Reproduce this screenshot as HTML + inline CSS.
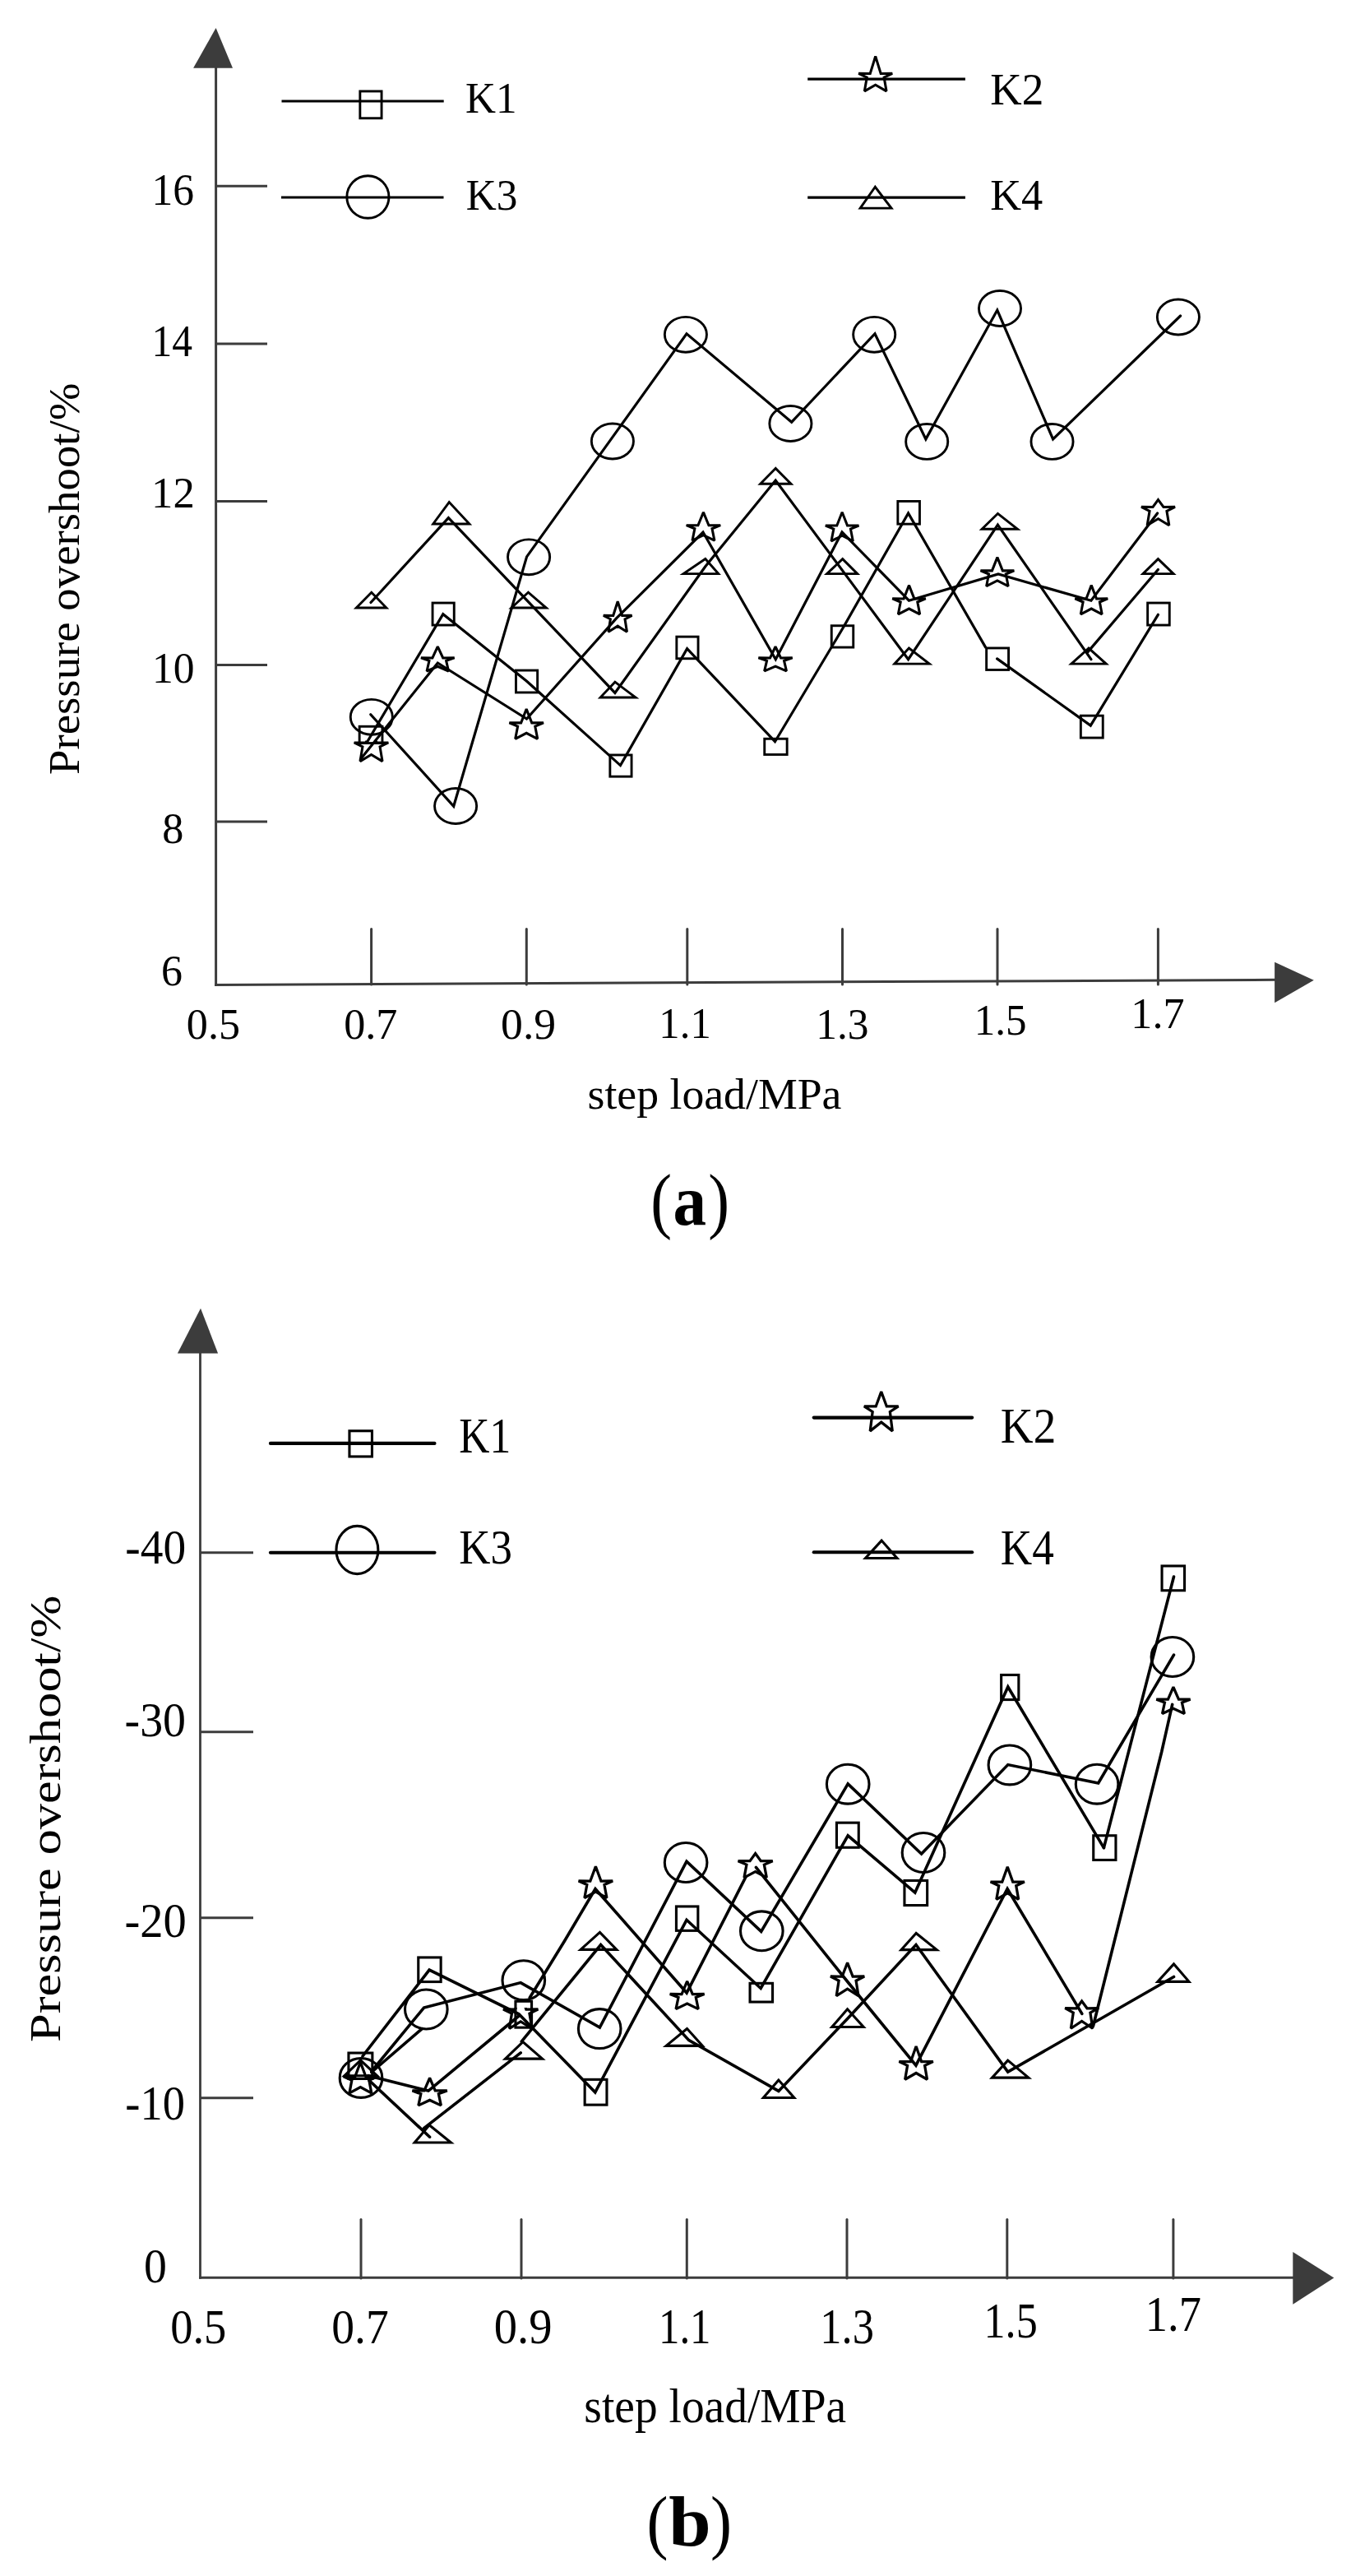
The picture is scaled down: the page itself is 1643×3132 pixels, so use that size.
<!DOCTYPE html>
<html lang="en">
<head>
<meta charset="utf-8">
<title>Pressure overshoot vs step load</title>
<style>
html,body{margin:0;padding:0;background:#fff;}
svg{display:block;}
text{font-family:"Liberation Serif",serif;fill:#000;}
</style>
</head>
<body>
<svg width="1643" height="3132" viewBox="0 0 1643 3132">
<rect width="1643" height="3132" fill="#fff"/>
<g id="chart-a">
<line x1="262.6" y1="80" x2="262.6" y2="1199" stroke="#3c3c3c" stroke-width="3" stroke-linecap="butt"/>
<polygon points="262.6,34 235.1,82.8 283,82.8" fill="#3c3c3c"/>
<line x1="261.1" y1="1197.5" x2="1552" y2="1191.3" stroke="#3c3c3c" stroke-width="3" stroke-linecap="butt"/>
<polygon points="1597.8,1191.8 1550.1,1169.7 1550.1,1219.2" fill="#3c3c3c"/>
<line x1="262" y1="226.2" x2="325" y2="226.2" stroke="#3c3c3c" stroke-width="3" stroke-linecap="butt"/>
<line x1="262" y1="418" x2="325" y2="418" stroke="#3c3c3c" stroke-width="3" stroke-linecap="butt"/>
<line x1="262" y1="609.5" x2="325" y2="609.5" stroke="#3c3c3c" stroke-width="3" stroke-linecap="butt"/>
<line x1="262" y1="808.4" x2="325" y2="808.4" stroke="#3c3c3c" stroke-width="3" stroke-linecap="butt"/>
<line x1="262" y1="998.9" x2="325" y2="998.9" stroke="#3c3c3c" stroke-width="3" stroke-linecap="butt"/>
<line x1="451.6" y1="1129.6" x2="451.6" y2="1197.1" stroke="#3c3c3c" stroke-width="3" stroke-linecap="round"/>
<line x1="640.3" y1="1129.6" x2="640.3" y2="1197.1" stroke="#3c3c3c" stroke-width="3" stroke-linecap="round"/>
<line x1="835.8" y1="1129.6" x2="835.8" y2="1197.1" stroke="#3c3c3c" stroke-width="3" stroke-linecap="round"/>
<line x1="1024.5" y1="1129.6" x2="1024.5" y2="1197.1" stroke="#3c3c3c" stroke-width="3" stroke-linecap="round"/>
<line x1="1213" y1="1129.6" x2="1213" y2="1197.1" stroke="#3c3c3c" stroke-width="3" stroke-linecap="round"/>
<line x1="1408.4" y1="1129.6" x2="1408.4" y2="1197.1" stroke="#3c3c3c" stroke-width="3" stroke-linecap="round"/>
<line x1="342.5" y1="123" x2="539.7" y2="123" stroke="#000" stroke-width="3.2" stroke-linecap="butt"/>
<rect x="437.85" y="110.95" width="26.2" height="32.8" fill="none" stroke="#000" stroke-width="2.9"/>
<line x1="342" y1="240" x2="539.5" y2="240" stroke="#000" stroke-width="3.2" stroke-linecap="butt"/>
<ellipse cx="447.4" cy="239.5" rx="25.55" ry="25.7" fill="none" stroke="#000" stroke-width="2.9"/>
<line x1="982.2" y1="96.2" x2="1173.9" y2="96.2" stroke="#000" stroke-width="3.2" stroke-linecap="butt"/>
<polygon points="1064.7,68.52 1071.17,89.45 1085.2,89.36 1075.13,94.1 1078.03,110.85 1064.7,103.15 1051.37,110.85 1054.27,94.1 1044.2,89.36 1058.23,89.45" fill="none" stroke="#000" stroke-width="3.05" stroke-linejoin="miter" stroke-miterlimit="2.2"/>
<line x1="982.2" y1="240.2" x2="1173.9" y2="240.2" stroke="#000" stroke-width="3.2" stroke-linecap="butt"/>
<polygon points="1064.3,227.26 1046.16,253.15 1084.04,253.15" fill="none" stroke="#000" stroke-width="2.9" stroke-linejoin="miter" stroke-miterlimit="10"/>
<text transform="translate(567.5 137) scale(0.5119 0.5333)" x="-2.75" y="0" font-size="100">K1</text>
<text transform="translate(568.2 254.97) scale(0.5126 0.5338)" x="-2.75" y="0" font-size="100">K3</text>
<text transform="translate(1205.7 127) scale(0.5325 0.5479)" x="-2.75" y="0" font-size="100">K2</text>
<text transform="translate(1205.7 255.4) scale(0.5237 0.5354)" x="-2.75" y="0" font-size="100">K4</text>
<text transform="translate(188.9 248.66) scale(0.5156 0.5398)" x="-8.75" y="0" font-size="100">16</text>
<text transform="translate(188.9 432.8) scale(0.4947 0.5394)" x="-8.75" y="0" font-size="100">14</text>
<text transform="translate(188.7 616.5) scale(0.5271 0.5298)" x="-8.75" y="0" font-size="100">12</text>
<text transform="translate(189.5 830.47) scale(0.5154 0.5259)" x="-8.75" y="0" font-size="100">10</text>
<text transform="translate(199.2 1024.56) scale(0.5224 0.5363)" x="-3.75" y="0" font-size="100">8</text>
<text transform="translate(198.1 1198.17) scale(0.5193 0.5338)" x="-4.25" y="0" font-size="100">6</text>
<text transform="translate(228.8 1262.81) scale(0.5211 0.5279)" x="-3.75" y="0" font-size="100">0.5</text>
<text transform="translate(420.2 1262.81) scale(0.5215 0.5279)" x="-3.75" y="0" font-size="100">0.7</text>
<text transform="translate(611.1 1263.2) scale(0.5365 0.5338)" x="-3.75" y="0" font-size="100">0.9</text>
<text transform="translate(805.8 1262.02) scale(0.5070 0.5200)" x="-8.75" y="0" font-size="100">1.1</text>
<text transform="translate(996.7 1263.22) scale(0.5149 0.5196)" x="-8.75" y="0" font-size="100">1.3</text>
<text transform="translate(1189.3 1257.61) scale(0.5105 0.5259)" x="-8.75" y="0" font-size="100">1.5</text>
<text transform="translate(1379.9 1250.19) scale(0.5216 0.5378)" x="-8.75" y="0" font-size="100">1.7</text>
<text transform="translate(716.6 1348) scale(0.5375 0.5324)" x="-4" y="0" font-size="100">step load/MPa</text>
<text transform="translate(96 940.6) rotate(-90) scale(0.5483 0.5381)" x="-2.75" y="0" font-size="100">Pressure overshoot/%</text>
<polyline points="446,903 538.8,746.7 640.6,828.3 754.5,930.6 835.6,788.7 942.5,901.7 1024.7,764.3 1104.6,624 1198.5,786.9" fill="none" stroke="#000" stroke-width="3.2" stroke-linejoin="miter" stroke-linecap="round"/>
<polyline points="1212.6,800.9 1326.3,882.1 1408.4,747.3" fill="none" stroke="#000" stroke-width="3.2" stroke-linejoin="miter" stroke-linecap="round"/>
<polyline points="438.5,923 532.3,806 640.5,874 749.7,751.7 855,647 943.3,801.7 1024,647 1105.4,730.2 1214,698 1326.9,730.2 1407.6,624" fill="none" stroke="#000" stroke-width="3.2" stroke-linejoin="miter" stroke-linecap="round"/>
<polyline points="450.8,868.8 551.7,980.2 640.6,676.9 745,531.4 835,405.9 962.7,513.2 1064,405.7 1125.9,533.9 1212.8,377 1280.6,533.9 1435.6,384" fill="none" stroke="#000" stroke-width="3.2" stroke-linejoin="miter" stroke-linecap="round"/>
<polyline points="451,732.5 545.4,629.6 640.3,729.3 747.9,842.4 857.8,688.8 943.2,584 1024.7,693.9 1104.6,801.7 1213.4,638.1 1326.9,801.7" fill="none" stroke="#000" stroke-width="3.2" stroke-linejoin="miter" stroke-linecap="round"/>
<polyline points="1323.2,792.4 1408.4,692.5" fill="none" stroke="#000" stroke-width="3.2" stroke-linejoin="miter" stroke-linecap="round"/>
<rect x="437.15" y="883.25" width="27.8" height="20.3" fill="none" stroke="#000" stroke-width="2.9"/>
<rect x="526.05" y="733.05" width="26.2" height="27" fill="none" stroke="#000" stroke-width="2.9"/>
<rect x="627.45" y="815.05" width="26.2" height="26.9" fill="none" stroke="#000" stroke-width="2.9"/>
<rect x="741.85" y="917.95" width="26.2" height="26.2" fill="none" stroke="#000" stroke-width="2.9"/>
<rect x="822.85" y="774.15" width="26.2" height="26.6" fill="none" stroke="#000" stroke-width="2.9"/>
<rect x="929.75" y="898.25" width="27.4" height="19.2" fill="none" stroke="#000" stroke-width="2.9"/>
<rect x="1011.25" y="760.75" width="26.5" height="26.3" fill="none" stroke="#000" stroke-width="2.9"/>
<rect x="1091.85" y="609.45" width="26.6" height="27.7" fill="none" stroke="#000" stroke-width="2.9"/>
<rect x="1199.65" y="787.95" width="26.9" height="26.5" fill="none" stroke="#000" stroke-width="2.9"/>
<rect x="1314.35" y="870.15" width="26.9" height="26.9" fill="none" stroke="#000" stroke-width="2.9"/>
<rect x="1395.65" y="733.05" width="26.6" height="27" fill="none" stroke="#000" stroke-width="2.9"/>
<ellipse cx="451.8" cy="871.8" rx="25.55" ry="21.45" fill="none" stroke="#000" stroke-width="2.9"/>
<ellipse cx="554.1" cy="980" rx="25.55" ry="21.45" fill="none" stroke="#000" stroke-width="2.9"/>
<ellipse cx="643.1" cy="677.3" rx="25.55" ry="21.45" fill="none" stroke="#000" stroke-width="2.9"/>
<ellipse cx="744.9" cy="536.5" rx="25.55" ry="21.45" fill="none" stroke="#000" stroke-width="2.9"/>
<ellipse cx="833.9" cy="406.8" rx="25.55" ry="21.45" fill="none" stroke="#000" stroke-width="2.9"/>
<ellipse cx="961.4" cy="515" rx="25.55" ry="21.45" fill="none" stroke="#000" stroke-width="2.9"/>
<ellipse cx="1063.2" cy="406.8" rx="25.55" ry="21.45" fill="none" stroke="#000" stroke-width="2.9"/>
<ellipse cx="1127.2" cy="536.9" rx="25.55" ry="21.45" fill="none" stroke="#000" stroke-width="2.9"/>
<ellipse cx="1216" cy="375" rx="25.55" ry="21.45" fill="none" stroke="#000" stroke-width="2.9"/>
<ellipse cx="1279.5" cy="536.9" rx="25.55" ry="21.45" fill="none" stroke="#000" stroke-width="2.9"/>
<ellipse cx="1432.9" cy="385.5" rx="25.55" ry="21.45" fill="none" stroke="#000" stroke-width="2.9"/>
<clipPath id="cpa"><rect x="420" y="900.5" width="70" height="40"/></clipPath>
<polygon points="451.5,881.05 458.06,903.08 472.28,902.99 462.07,907.98 465.01,925.61 451.5,917.51 437.99,925.61 440.93,907.98 430.72,902.99 444.94,903.08" fill="none" stroke="#000" stroke-width="3.05" stroke-linejoin="miter" stroke-miterlimit="2.2" clip-path="url(#cpa)"/>
<polygon points="532.3,786.05 538.71,799.93 552.62,799.87 542.63,803.43 545.51,816.01 532.3,810.23 519.09,816.01 521.97,803.43 511.98,799.87 525.89,799.93" fill="none" stroke="#000" stroke-width="3.05" stroke-linejoin="miter" stroke-miterlimit="2.2"/>
<polygon points="640.2,862.12 646.76,878.89 660.98,878.81 650.77,883.11 653.71,898.31 640.2,891.32 626.69,898.31 629.63,883.11 619.42,878.81 633.64,878.89" fill="none" stroke="#000" stroke-width="3.05" stroke-linejoin="miter" stroke-miterlimit="2.2"/>
<polygon points="751.2,731.23 756.67,748.41 768.54,748.33 760.02,752.73 762.47,768.29 751.2,761.14 739.93,768.29 742.38,752.73 733.86,748.33 745.73,748.41" fill="none" stroke="#000" stroke-width="3.05" stroke-linejoin="miter" stroke-miterlimit="2.2"/>
<polygon points="855.45,622.8 861.99,638.76 876.19,638.68 866,642.78 868.93,657.24 855.45,650.59 841.97,657.24 844.9,642.78 834.71,638.68 848.91,638.76" fill="none" stroke="#000" stroke-width="3.05" stroke-linejoin="miter" stroke-miterlimit="2.2"/>
<polygon points="943.05,786.24 949.56,799.95 963.69,799.88 953.55,803.4 956.47,815.82 943.05,810.11 929.63,815.82 932.55,803.4 922.41,799.88 936.54,799.95" fill="none" stroke="#000" stroke-width="3.05" stroke-linejoin="miter" stroke-miterlimit="2.2"/>
<polygon points="1024.15,622.81 1030.54,639.08 1044.42,639.01 1034.46,643.18 1037.33,657.93 1024.15,651.15 1010.97,657.93 1013.84,643.18 1003.88,639.01 1017.76,639.08" fill="none" stroke="#000" stroke-width="3.05" stroke-linejoin="miter" stroke-miterlimit="2.2"/>
<polygon points="1105.5,711.61 1111.88,727.93 1125.72,727.85 1115.79,732.04 1118.65,746.82 1105.5,740.03 1092.35,746.82 1095.21,732.04 1085.28,727.85 1099.12,727.93" fill="none" stroke="#000" stroke-width="3.05" stroke-linejoin="miter" stroke-miterlimit="2.2"/>
<polygon points="1212.9,677.61 1219.34,693.88 1233.31,693.81 1223.28,697.98 1226.17,712.73 1212.9,705.95 1199.63,712.73 1202.52,697.98 1192.49,693.81 1206.46,693.88" fill="none" stroke="#000" stroke-width="3.05" stroke-linejoin="miter" stroke-miterlimit="2.2"/>
<polygon points="1327.25,711.61 1333.53,727.93 1347.15,727.85 1337.37,732.04 1340.19,746.82 1327.25,740.03 1314.31,746.82 1317.13,732.04 1307.35,727.85 1320.97,727.93" fill="none" stroke="#000" stroke-width="3.05" stroke-linejoin="miter" stroke-miterlimit="2.2"/>
<polygon points="1408.5,607.62 1414.97,616.45 1429,616.36 1418.93,621.29 1421.83,638.72 1408.5,630.71 1395.17,638.72 1398.07,621.29 1388,616.36 1402.03,616.45" fill="none" stroke="#000" stroke-width="3.05" stroke-linejoin="miter" stroke-miterlimit="2.2"/>
<polygon points="451.8,720.34 433.31,739.05 469.89,739.05" fill="none" stroke="#000" stroke-width="2.9" stroke-linejoin="miter" stroke-miterlimit="10"/>
<polygon points="546.2,610.55 526.74,636.95 570.86,636.95" fill="none" stroke="#000" stroke-width="2.9" stroke-linejoin="miter" stroke-miterlimit="10"/>
<polygon points="642.4,720.26 621.99,739.05 664.31,739.05" fill="none" stroke="#000" stroke-width="2.9" stroke-linejoin="miter" stroke-miterlimit="10"/>
<polygon points="747.9,829.15 730.11,848.05 773.09,848.05" fill="none" stroke="#000" stroke-width="2.9" stroke-linejoin="miter" stroke-miterlimit="10"/>
<polygon points="857.8,679.54 831.18,697.65 873.72,697.65" fill="none" stroke="#000" stroke-width="2.9" stroke-linejoin="miter" stroke-miterlimit="10"/>
<polygon points="943.2,569.43 924.73,588.25 961.97,588.25" fill="none" stroke="#000" stroke-width="2.9" stroke-linejoin="miter" stroke-miterlimit="10"/>
<polygon points="1024.7,679.61 1005.6,697.65 1042.7,697.65" fill="none" stroke="#000" stroke-width="2.9" stroke-linejoin="miter" stroke-miterlimit="10"/>
<polygon points="1105.4,788.06 1087.86,807.15 1130.24,807.15" fill="none" stroke="#000" stroke-width="2.9" stroke-linejoin="miter" stroke-miterlimit="10"/>
<polygon points="1213.4,624.45 1194.14,643.25 1237.46,643.25" fill="none" stroke="#000" stroke-width="2.9" stroke-linejoin="miter" stroke-miterlimit="10"/>
<polygon points="1324,788.06 1302.86,807.15 1345.24,807.15" fill="none" stroke="#000" stroke-width="2.9" stroke-linejoin="miter" stroke-miterlimit="10"/>
<polygon points="1408.4,679.61 1390,697.65 1427.1,697.65" fill="none" stroke="#000" stroke-width="2.9" stroke-linejoin="miter" stroke-miterlimit="10"/>
</g>
<text transform="translate(794.5 1488.6) scale(0.7748 0.8830)" y="0" font-size="100"><tspan x="-4.35">(</tspan><tspan x="30.93" font-weight="bold" textLength="52.34" lengthAdjust="spacingAndGlyphs">a</tspan><tspan x="86.29">)</tspan></text>
<g id="chart-b">
<line x1="243.5" y1="1643" x2="243.5" y2="2770.7" stroke="#3c3c3c" stroke-width="2.8" stroke-linecap="butt"/>
<polygon points="244,1590.7 215.9,1645.5 265.1,1645.5" fill="#3c3c3c"/>
<line x1="242.1" y1="2769.2" x2="1574" y2="2769.2" stroke="#3c3c3c" stroke-width="3" stroke-linecap="butt"/>
<polygon points="1622.3,2769.5 1572.3,2738.1 1572.3,2801.7" fill="#3c3c3c"/>
<line x1="243" y1="1887.7" x2="308" y2="1887.7" stroke="#3c3c3c" stroke-width="3" stroke-linecap="butt"/>
<line x1="243" y1="2105.8" x2="308" y2="2105.8" stroke="#3c3c3c" stroke-width="3" stroke-linecap="butt"/>
<line x1="243" y1="2331.8" x2="308" y2="2331.8" stroke="#3c3c3c" stroke-width="3" stroke-linecap="butt"/>
<line x1="243" y1="2550.7" x2="308" y2="2550.7" stroke="#3c3c3c" stroke-width="3" stroke-linecap="butt"/>
<line x1="439" y1="2698.5" x2="439" y2="2770" stroke="#3c3c3c" stroke-width="3" stroke-linecap="round"/>
<line x1="634" y1="2698.5" x2="634" y2="2770" stroke="#3c3c3c" stroke-width="3" stroke-linecap="round"/>
<line x1="835.3" y1="2698.5" x2="835.3" y2="2770" stroke="#3c3c3c" stroke-width="3" stroke-linecap="round"/>
<line x1="1030" y1="2698.5" x2="1030" y2="2770" stroke="#3c3c3c" stroke-width="3" stroke-linecap="round"/>
<line x1="1224.8" y1="2698.5" x2="1224.8" y2="2770" stroke="#3c3c3c" stroke-width="3" stroke-linecap="round"/>
<line x1="1426.9" y1="2698.5" x2="1426.9" y2="2770" stroke="#3c3c3c" stroke-width="3" stroke-linecap="round"/>
<line x1="328.9" y1="1754.9" x2="528.5" y2="1754.9" stroke="#000" stroke-width="4.1" stroke-linecap="round"/>
<rect x="424.95" y="1739.75" width="27.5" height="31.2" fill="none" stroke="#000" stroke-width="3.1"/>
<line x1="328.9" y1="1887.7" x2="528.5" y2="1887.7" stroke="#000" stroke-width="4.1" stroke-linecap="round"/>
<ellipse cx="434.4" cy="1884.5" rx="25.45" ry="29.1" fill="none" stroke="#000" stroke-width="3.1"/>
<line x1="989.7" y1="1723.6" x2="1182.2" y2="1723.6" stroke="#000" stroke-width="4.1" stroke-linecap="round"/>
<polygon points="1071.75,1692.14 1078.32,1709.99 1092.58,1709.87 1082.34,1716.49 1085.29,1739.89 1071.75,1729.13 1058.21,1739.89 1061.16,1716.49 1050.92,1709.87 1065.18,1709.99" fill="none" stroke="#000" stroke-width="3.25" stroke-linejoin="miter" stroke-miterlimit="2.2"/>
<line x1="989.7" y1="1887.2" x2="1182.2" y2="1887.2" stroke="#000" stroke-width="4.1" stroke-linecap="round"/>
<polygon points="1072.1,1873.08 1052.53,1894.45 1090.97,1894.45" fill="none" stroke="#000" stroke-width="3.1" stroke-linejoin="miter" stroke-miterlimit="10"/>
<text transform="translate(559.7 1765.8) scale(0.5154 0.6061)" x="-2.75" y="0" font-size="100">K1</text>
<text transform="translate(559.7 1901.11) scale(0.5290 0.5933)" x="-2.75" y="0" font-size="100">K3</text>
<text transform="translate(1218.3 1754.3) scale(0.5518 0.6023)" x="-2.75" y="0" font-size="100">K2</text>
<text transform="translate(1218.3 1902.4) scale(0.5331 0.6084)" x="-2.75" y="0" font-size="100">K4</text>
<text transform="translate(154.4 1901.11) scale(0.5535 0.5911)" x="-3.75" y="0" font-size="100">-40</text>
<text transform="translate(153.6 2111.1) scale(0.5590 0.5970)" x="-3.75" y="0" font-size="100">-30</text>
<text transform="translate(153.6 2354.81) scale(0.5654 0.5911)" x="-3.75" y="0" font-size="100">-20</text>
<text transform="translate(154.4 2577.11) scale(0.5447 0.5926)" x="-3.75" y="0" font-size="100">-10</text>
<text transform="translate(177 2775.21) scale(0.5576 0.5911)" x="-3.75" y="0" font-size="100">0</text>
<text transform="translate(209.2 2849) scale(0.5458 0.6000)" x="-3.75" y="0" font-size="100">0.5</text>
<text transform="translate(405.3 2849) scale(0.5561 0.6000)" x="-3.75" y="0" font-size="100">0.7</text>
<text transform="translate(602.9 2848.99) scale(0.5655 0.6074)" x="-3.75" y="0" font-size="100">0.9</text>
<text transform="translate(805.4 2848.79) scale(0.5088 0.6089)" x="-8.75" y="0" font-size="100">1.1</text>
<text transform="translate(1001.9 2848.79) scale(0.5247 0.6066)" x="-8.75" y="0" font-size="100">1.3</text>
<text transform="translate(1201.1 2842.28) scale(0.5212 0.6148)" x="-8.75" y="0" font-size="100">1.5</text>
<text transform="translate(1397.6 2834.08) scale(0.5445 0.6133)" x="-8.75" y="0" font-size="100">1.7</text>
<text transform="translate(712.5 2945.2) scale(0.5547 0.5928)" x="-4" y="0" font-size="100">step load/MPa</text>
<text transform="translate(72.5 2481.3) rotate(-90) scale(0.6253 0.5367)" x="-2.75" y="0" font-size="100">Pressure overshoot/%</text>
<polyline points="441,2500 522.1,2395.1 631,2448.8 723.8,2543.9 835,2334.3 925.2,2417.5 1031.2,2231.8 1112.8,2301 1225.8,2051 1342.4,2246.6" fill="none" stroke="#000" stroke-width="3.6" stroke-linejoin="miter" stroke-linecap="round"/>
<polyline points="1342.4,2246.6 1427.5,1917" fill="none" stroke="#000" stroke-width="3.6" stroke-linejoin="miter" stroke-linecap="round"/>
<polyline points="448,2523.7 521,2542.1 631,2451" fill="none" stroke="#000" stroke-width="3.6" stroke-linejoin="miter" stroke-linecap="round"/>
<polyline points="644.3,2428.8 686.5,2360 724,2296.5 835.1,2423 907,2282" fill="none" stroke="#000" stroke-width="3.6" stroke-linejoin="miter" stroke-linecap="round"/>
<polyline points="919.4,2270.4 1032,2411 1113.9,2511.2 1225.1,2296.5 1315.8,2448.4" fill="none" stroke="#000" stroke-width="3.6" stroke-linejoin="miter" stroke-linecap="round"/>
<polyline points="1329.5,2463.2 1362.8,2330 1412.7,2130 1425.7,2072.4" fill="none" stroke="#000" stroke-width="3.6" stroke-linejoin="miter" stroke-linecap="round"/>
<polyline points="451.8,2518.5 515.5,2441.1 633.2,2410.6 729.4,2465.1 835,2263.2 925.7,2348.4 1031.2,2168.9 1120.6,2254 1225.8,2145.6 1335.7,2168 1427.5,2012.1" fill="none" stroke="#000" stroke-width="3.6" stroke-linejoin="miter" stroke-linecap="round"/>
<polyline points="451.8,2519.5 513.3,2466.6" fill="none" stroke="#000" stroke-width="3.6" stroke-linejoin="miter" stroke-linecap="round"/>
<polyline points="449,2529.5 522.6,2598.2" fill="none" stroke="#000" stroke-width="3.6" stroke-linejoin="miter" stroke-linecap="round"/>
<polyline points="515.5,2587.6 633.2,2495.9" fill="none" stroke="#000" stroke-width="3.6" stroke-linejoin="miter" stroke-linecap="round"/>
<polyline points="634.3,2482.1 730.6,2364.5 837.8,2480.6 946.9,2542.4 1030.6,2454.4 1114,2364.5 1225.7,2519.1 1427.5,2403.5" fill="none" stroke="#000" stroke-width="3.6" stroke-linejoin="miter" stroke-linecap="round"/>
<rect x="423.95" y="2496.05" width="28.9" height="31.4" fill="none" stroke="#000" stroke-width="3.1"/>
<rect x="508.75" y="2379.95" width="27.4" height="29.6" fill="none" stroke="#000" stroke-width="3.1"/>
<rect x="626.95" y="2433.25" width="19.6" height="31.9" fill="none" stroke="#000" stroke-width="3.1"/>
<rect x="711.15" y="2528.35" width="26.8" height="30.8" fill="none" stroke="#000" stroke-width="3.1"/>
<rect x="822.45" y="2317.95" width="26.4" height="29.4" fill="none" stroke="#000" stroke-width="3.1"/>
<rect x="912.05" y="2411.35" width="27.5" height="22.7" fill="none" stroke="#000" stroke-width="3.1"/>
<rect x="1017.45" y="2216.15" width="26.8" height="30.1" fill="none" stroke="#000" stroke-width="3.1"/>
<rect x="1099.95" y="2286.45" width="27.7" height="30.1" fill="none" stroke="#000" stroke-width="3.1"/>
<rect x="1217.65" y="2036.45" width="21.2" height="30.1" fill="none" stroke="#000" stroke-width="3.1"/>
<rect x="1329.75" y="2231.75" width="27.2" height="29.7" fill="none" stroke="#000" stroke-width="3.1"/>
<rect x="1413.05" y="1903.95" width="27.5" height="29.8" fill="none" stroke="#000" stroke-width="3.1"/>
<ellipse cx="439" cy="2526.4" rx="25.8" ry="23.95" fill="none" stroke="#000" stroke-width="3.1"/>
<ellipse cx="518.3" cy="2443" rx="25.8" ry="23.95" fill="none" stroke="#000" stroke-width="3.1"/>
<ellipse cx="636.8" cy="2407.7" rx="25.8" ry="23.95" fill="none" stroke="#000" stroke-width="3.1"/>
<ellipse cx="729.2" cy="2466.6" rx="25.8" ry="23.95" fill="none" stroke="#000" stroke-width="3.1"/>
<ellipse cx="834.1" cy="2264.5" rx="25.8" ry="23.95" fill="none" stroke="#000" stroke-width="3.1"/>
<ellipse cx="926.3" cy="2347.8" rx="25.8" ry="23.95" fill="none" stroke="#000" stroke-width="3.1"/>
<ellipse cx="1031.2" cy="2169.2" rx="25.8" ry="23.95" fill="none" stroke="#000" stroke-width="3.1"/>
<ellipse cx="1123" cy="2252.5" rx="25.8" ry="23.95" fill="none" stroke="#000" stroke-width="3.1"/>
<ellipse cx="1227.9" cy="2145.9" rx="25.8" ry="23.95" fill="none" stroke="#000" stroke-width="3.1"/>
<ellipse cx="1334.1" cy="2169.2" rx="25.8" ry="23.95" fill="none" stroke="#000" stroke-width="3.1"/>
<ellipse cx="1425.9" cy="2014.5" rx="25.8" ry="23.95" fill="none" stroke="#000" stroke-width="3.1"/>
<clipPath id="cpb"><rect x="600" y="2441" width="70" height="40"/></clipPath>
<polygon points="633.2,2423 639.87,2443.06 654.36,2442.97 643.96,2448.12 646.96,2466.29 633.2,2457.94 619.44,2466.29 622.44,2448.12 612.04,2442.97 626.53,2443.06" fill="none" stroke="#000" stroke-width="3.25" stroke-linejoin="miter" stroke-miterlimit="2.2" clip-path="url(#cpb)"/>
<polygon points="438.35,2507.43 444.86,2524.79 458.99,2524.71 448.85,2529.16 451.77,2544.89 438.35,2537.66 424.93,2544.89 427.85,2529.16 417.71,2524.71 431.84,2524.79" fill="none" stroke="#000" stroke-width="3.25" stroke-linejoin="miter" stroke-miterlimit="2.2"/>
<polygon points="522.6,2526.49 529.27,2541.95 543.76,2541.88 533.36,2545.84 536.36,2559.85 522.6,2553.41 508.84,2559.85 511.84,2545.84 501.44,2541.88 515.93,2541.95" fill="none" stroke="#000" stroke-width="3.25" stroke-linejoin="miter" stroke-miterlimit="2.2"/>
<polygon points="724.4,2269.44 730.96,2287.07 745.18,2286.99 734.97,2291.51 737.91,2307.48 724.4,2300.14 710.89,2307.48 713.83,2291.51 703.62,2286.99 717.84,2287.07" fill="none" stroke="#000" stroke-width="3.25" stroke-linejoin="miter" stroke-miterlimit="2.2"/>
<polygon points="835.65,2408.89 842.25,2424.54 856.57,2424.46 846.29,2428.47 849.25,2442.65 835.65,2436.13 822.05,2442.65 825.01,2428.47 814.73,2424.46 829.05,2424.54" fill="none" stroke="#000" stroke-width="3.25" stroke-linejoin="miter" stroke-miterlimit="2.2"/>
<polygon points="918.65,2253.53 925.28,2262.74 939.67,2262.66 929.34,2267.12 932.32,2282.89 918.65,2275.64 904.98,2282.89 907.96,2267.12 897.63,2262.66 912.02,2262.74" fill="none" stroke="#000" stroke-width="3.25" stroke-linejoin="miter" stroke-miterlimit="2.2"/>
<polygon points="1030.6,2386.41 1037.1,2403.07 1051.2,2402.97 1041.08,2408.2 1043.99,2426.68 1030.6,2418.19 1017.21,2426.68 1020.12,2408.2 1010,2402.97 1024.1,2403.07" fill="none" stroke="#000" stroke-width="3.25" stroke-linejoin="miter" stroke-miterlimit="2.2"/>
<polygon points="1114.1,2487.97 1120.63,2506.63 1134.79,2506.54 1124.62,2511.33 1127.55,2528.24 1114.1,2520.47 1100.65,2528.24 1103.58,2511.33 1093.41,2506.54 1107.57,2506.63" fill="none" stroke="#000" stroke-width="3.25" stroke-linejoin="miter" stroke-miterlimit="2.2"/>
<polygon points="1225.25,2269.86 1231.76,2288.16 1245.89,2288.08 1235.75,2292.77 1238.67,2309.35 1225.25,2301.73 1211.83,2309.35 1214.75,2292.77 1204.61,2288.08 1218.74,2288.16" fill="none" stroke="#000" stroke-width="3.25" stroke-linejoin="miter" stroke-miterlimit="2.2"/>
<polygon points="1426.95,2051.27 1433.46,2066.24 1447.59,2066.17 1437.45,2070.01 1440.37,2083.57 1426.95,2077.34 1413.53,2083.57 1416.45,2070.01 1406.31,2066.17 1420.44,2066.24" fill="none" stroke="#000" stroke-width="3.25" stroke-linejoin="miter" stroke-miterlimit="2.2"/>
<polygon points="1315.6,2433.02 1322.01,2441.79 1335.92,2441.69 1325.93,2447.11 1328.81,2466.25 1315.6,2457.45 1302.39,2466.25 1305.27,2447.11 1295.28,2441.69 1309.19,2441.79" fill="none" stroke="#000" stroke-width="3.25" stroke-linejoin="miter" stroke-miterlimit="2.2"/>
<polygon points="438.5,2504.78 418.92,2523.75 458.58,2523.75" fill="none" stroke="#000" stroke-width="3.1" stroke-linejoin="miter" stroke-miterlimit="10"/>
<polygon points="522.1,2583.78 504.21,2605.05 548.39,2605.05" fill="none" stroke="#000" stroke-width="3.1" stroke-linejoin="miter" stroke-miterlimit="10"/>
<polygon points="635.9,2482.55 614.52,2503.15 659.58,2503.15" fill="none" stroke="#000" stroke-width="3.1" stroke-linejoin="miter" stroke-miterlimit="10"/>
<polygon points="729.5,2349.38 706.12,2370.35 749.88,2370.35" fill="none" stroke="#000" stroke-width="3.1" stroke-linejoin="miter" stroke-miterlimit="10"/>
<polygon points="835.6,2466.57 810.16,2487.35 854.34,2487.35" fill="none" stroke="#000" stroke-width="3.1" stroke-linejoin="miter" stroke-miterlimit="10"/>
<polygon points="946.9,2529 928.38,2550.45 965.82,2550.45" fill="none" stroke="#000" stroke-width="3.1" stroke-linejoin="miter" stroke-miterlimit="10"/>
<polygon points="1030.6,2442.79 1011.7,2464.55 1050.2,2464.55" fill="none" stroke="#000" stroke-width="3.1" stroke-linejoin="miter" stroke-miterlimit="10"/>
<polygon points="1114.1,2350.47 1095.97,2370.65 1139.23,2370.65" fill="none" stroke="#000" stroke-width="3.1" stroke-linejoin="miter" stroke-miterlimit="10"/>
<polygon points="1225.7,2505.08 1206.44,2526.15 1250.86,2526.15" fill="none" stroke="#000" stroke-width="3.1" stroke-linejoin="miter" stroke-miterlimit="10"/>
<polygon points="1427.5,2387.89 1407.91,2409.35 1445.99,2409.35" fill="none" stroke="#000" stroke-width="3.1" stroke-linejoin="miter" stroke-miterlimit="10"/>
</g>
<text transform="translate(790 3094.5) scale(0.7806 0.8751)" y="0" font-size="100"><tspan x="-4.44">(</tspan><tspan x="29.65" font-weight="bold" textLength="65.93" lengthAdjust="spacingAndGlyphs">b</tspan><tspan x="94.95">)</tspan></text>
</svg>
</body>
</html>
